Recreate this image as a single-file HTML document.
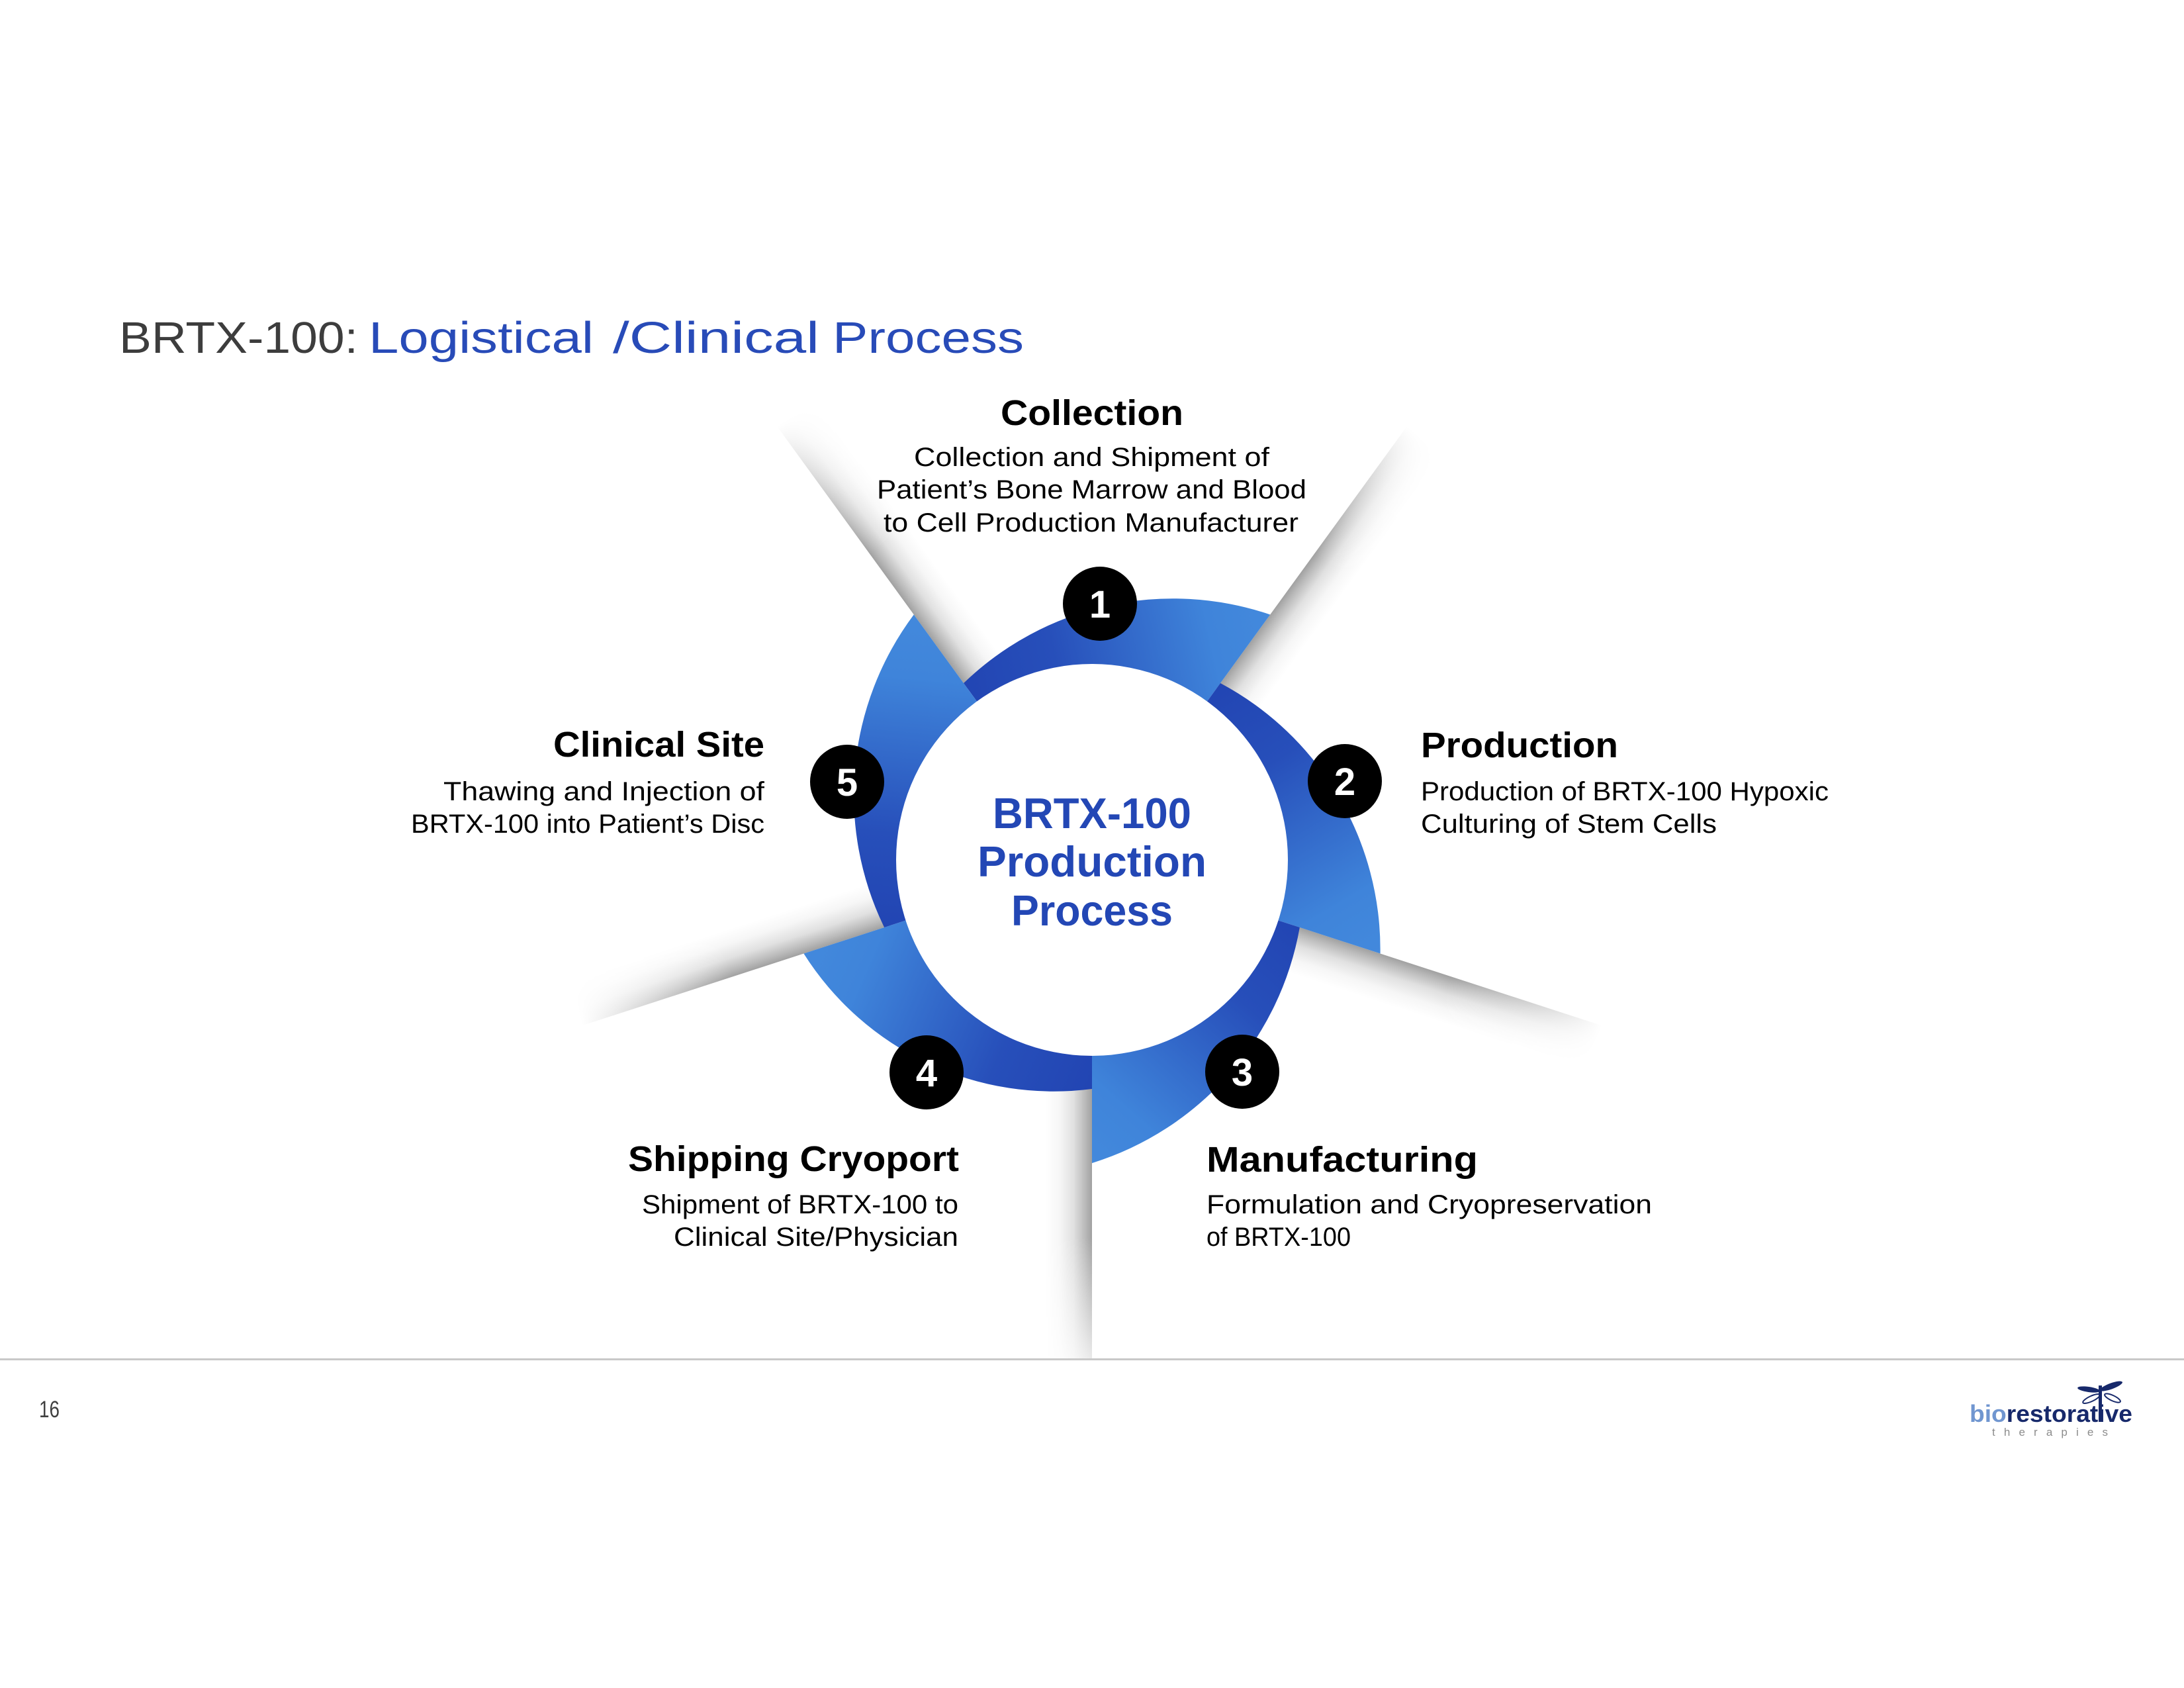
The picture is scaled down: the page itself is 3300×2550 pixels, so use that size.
<!DOCTYPE html>
<html>
<head>
<meta charset="utf-8">
<style>
html,body{margin:0;padding:0;background:#ffffff;}
svg{display:block;}
</style>
</head>
<body>
<svg width="3300" height="2550" viewBox="0 0 3300 2550" xmlns="http://www.w3.org/2000/svg" font-family="'Liberation Sans', Arial, sans-serif">
<defs>
  <linearGradient id="segG" gradientUnits="userSpaceOnUse" x1="-194" y1="-267" x2="269" y2="-371">
    <stop offset="0" stop-color="#2245b3"/>
    <stop offset="0.3" stop-color="#274fba"/>
    <stop offset="0.8" stop-color="#3f84da"/>
    <stop offset="1" stop-color="#4389dc"/>
  </linearGradient>
  <linearGradient id="shX" gradientUnits="userSpaceOnUse" x1="0" y1="0" x2="70" y2="0">
    <stop offset="0" stop-color="#000" stop-opacity="0.37"/>
    <stop offset="0.15" stop-color="#000" stop-opacity="0.27"/>
    <stop offset="0.4" stop-color="#000" stop-opacity="0.12"/>
    <stop offset="0.7" stop-color="#000" stop-opacity="0.035"/>
    <stop offset="1" stop-color="#000" stop-opacity="0"/>
  </linearGradient>
  <linearGradient id="shY" gradientUnits="userSpaceOnUse" x1="0" y1="-810" x2="0" y2="-570">
    <stop offset="0" stop-color="#000"/>
    <stop offset="1" stop-color="#fff"/>
  </linearGradient>
  <mask id="shM" maskUnits="userSpaceOnUse" x="-100" y="-900" width="300" height="700">
    <rect x="-100" y="-900" width="300" height="700" fill="url(#shY)"/>
  </mask>
  <clipPath id="pc"><rect x="0" y="0" width="3300" height="2052"/></clipPath>
</defs>

<rect x="0" y="0" width="3300" height="2550" fill="#ffffff"/>

<!-- Title -->
<text x="180" y="533" font-size="67" fill="#3d3d3d" textLength="361" lengthAdjust="spacingAndGlyphs">BRTX-100:</text>
<text x="557" y="533" font-size="67" fill="#284bb8" textLength="340" lengthAdjust="spacingAndGlyphs">Logistical</text>
<text x="926" y="533" font-size="67" fill="#284bb8" textLength="312" lengthAdjust="spacingAndGlyphs">/Clinical</text>
<text x="1258" y="533" font-size="67" fill="#284bb8" textLength="289" lengthAdjust="spacingAndGlyphs">Process</text>

<!-- Blade shadows -->
<g clip-path="url(#pc)">
  <g transform="translate(1650,1299) rotate(-36)"><rect x="0" y="-810" width="75" height="490" fill="url(#shX)" mask="url(#shM)"/></g>
  <g transform="translate(1650,1299) rotate(36)"><rect x="0" y="-810" width="75" height="490" fill="url(#shX)" mask="url(#shM)"/></g>
  <g transform="translate(1650,1299) rotate(108)"><rect x="0" y="-810" width="75" height="490" fill="url(#shX)" mask="url(#shM)"/></g>
  <g transform="translate(1650,1299) rotate(180)"><rect x="0" y="-810" width="75" height="490" fill="url(#shX)" mask="url(#shM)"/></g>
  <g transform="translate(1650,1299) rotate(252)"><rect x="0" y="-810" width="75" height="490" fill="url(#shX)" mask="url(#shM)"/></g>
</g>

<!-- Ring segments -->
<g transform="translate(1650,1299)">
  <path transform="rotate(0)" d="M-193.97,-266.98 A455.79,455.79 0 0 1 269.21,-370.53 L164.58,-226.52 A280,280 0 0 0 -164.58,-226.52 Z" fill="url(#segG)"/>
  <path transform="rotate(72)" d="M-193.97,-266.98 A455.79,455.79 0 0 1 269.21,-370.53 L164.58,-226.52 A280,280 0 0 0 -164.58,-226.52 Z" fill="url(#segG)"/>
  <path transform="rotate(144)" d="M-193.97,-266.98 A455.79,455.79 0 0 1 269.21,-370.53 L164.58,-226.52 A280,280 0 0 0 -164.58,-226.52 Z" fill="url(#segG)"/>
  <path transform="rotate(216)" d="M-203.37,-279.92 A447.01,447.01 0 0 1 269.21,-370.53 L164.58,-226.52 A280,280 0 0 0 -164.58,-226.52 Z" fill="url(#segG)"/>
  <path transform="rotate(288)" d="M-193.97,-266.98 A455.79,455.79 0 0 1 269.21,-370.53 L164.58,-226.52 A280,280 0 0 0 -164.58,-226.52 Z" fill="url(#segG)"/>
</g>

<!-- Inner circle -->
<circle cx="1650" cy="1299" r="296" fill="#ffffff"/>

<!-- Center text -->
<g font-weight="bold" font-size="65" fill="#2347b5">
  <text x="1500" y="1251" textLength="300" lengthAdjust="spacingAndGlyphs">BRTX-100</text>
  <text x="1477" y="1324" textLength="346" lengthAdjust="spacingAndGlyphs">Production</text>
  <text x="1528" y="1398" textLength="244" lengthAdjust="spacingAndGlyphs">Process</text>
</g>

<!-- Badges -->
<g>
  <circle cx="1662" cy="912" r="56" fill="#000"/>
  <circle cx="2032" cy="1180" r="56" fill="#000"/>
  <circle cx="1877" cy="1619" r="56" fill="#000"/>
  <circle cx="1400" cy="1620" r="56" fill="#000"/>
  <circle cx="1280" cy="1181" r="56" fill="#000"/>
</g>
<g font-weight="bold" font-size="58" fill="#ffffff" text-anchor="middle">
  <text x="1662" y="933">1</text>
  <text x="2032" y="1201">2</text>
  <text x="1877" y="1640">3</text>
  <text x="1400" y="1641">4</text>
  <text x="1280" y="1202">5</text>
</g>

<!-- Collection -->
<text x="1512" y="642" font-size="54" font-weight="bold" fill="#000" textLength="276" lengthAdjust="spacingAndGlyphs">Collection</text>
<g font-size="40" fill="#000">
  <text x="1381" y="704" textLength="537" lengthAdjust="spacingAndGlyphs">Collection and Shipment of</text>
  <text x="1325" y="753" textLength="649" lengthAdjust="spacingAndGlyphs">Patient’s Bone Marrow and Blood</text>
  <text x="1335" y="803" textLength="627" lengthAdjust="spacingAndGlyphs">to Cell Production Manufacturer</text>
</g>

<!-- Clinical Site -->
<text x="836" y="1143" font-size="54" font-weight="bold" fill="#000" textLength="319" lengthAdjust="spacingAndGlyphs">Clinical Site</text>
<g font-size="40" fill="#000">
  <text x="670" y="1209" textLength="485" lengthAdjust="spacingAndGlyphs">Thawing and Injection of</text>
  <text x="621" y="1258" textLength="534" lengthAdjust="spacingAndGlyphs">BRTX-100 into Patient’s Disc</text>
</g>

<!-- Production -->
<text x="2147" y="1144" font-size="54" font-weight="bold" fill="#000" textLength="298" lengthAdjust="spacingAndGlyphs">Production</text>
<g font-size="40" fill="#000">
  <text x="2147" y="1209" textLength="616" lengthAdjust="spacingAndGlyphs">Production of BRTX-100 Hypoxic</text>
  <text x="2147" y="1258" textLength="447" lengthAdjust="spacingAndGlyphs">Culturing of Stem Cells</text>
</g>

<!-- Shipping Cryoport -->
<text x="949" y="1769" font-size="54" font-weight="bold" fill="#000" textLength="500" lengthAdjust="spacingAndGlyphs">Shipping Cryoport</text>
<g font-size="40" fill="#000">
  <text x="970" y="1833" textLength="478" lengthAdjust="spacingAndGlyphs">Shipment of BRTX-100 to</text>
  <text x="1018" y="1882" textLength="430" lengthAdjust="spacingAndGlyphs">Clinical Site/Physician</text>
</g>

<!-- Manufacturing -->
<text x="1823" y="1770" font-size="54" font-weight="bold" fill="#000" textLength="410" lengthAdjust="spacingAndGlyphs">Manufacturing</text>
<g font-size="40" fill="#000">
  <text x="1823" y="1833" textLength="673" lengthAdjust="spacingAndGlyphs">Formulation and Cryopreservation</text>
  <text x="1823" y="1882" textLength="218" lengthAdjust="spacingAndGlyphs">of BRTX-100</text>
</g>

<!-- Footer -->
<rect x="0" y="2052" width="3300" height="3" fill="#c9c9c9"/>
<text x="59" y="2141" font-size="35" fill="#404040" textLength="31" lengthAdjust="spacingAndGlyphs">16</text>

<!-- Logo -->
<text x="2976" y="2148" font-size="36" font-weight="bold" textLength="246" lengthAdjust="spacingAndGlyphs"><tspan fill="#7096d0">bio</tspan><tspan fill="#17296b">restorative</tspan></text>
<text x="3010" y="2169" font-size="17" fill="#8c8c8c" textLength="175" lengthAdjust="spacing">therapies</text>
<g fill="#17296b">
  <ellipse cx="3156" cy="2099" rx="17" ry="4" transform="rotate(8 3156 2099)"/>
  <ellipse cx="3190" cy="2094" rx="18" ry="4.5" transform="rotate(-20 3190 2094)"/>
  <rect x="3171" y="2093" width="5" height="55"/>
</g>
<g fill="none" stroke="#17296b" stroke-width="2">
  <ellipse cx="3160" cy="2113" rx="14" ry="4" transform="rotate(-25 3160 2113)"/>
  <ellipse cx="3192" cy="2112" rx="13" ry="4" transform="rotate(25 3192 2112)"/>
</g>
</svg>
</body>
</html>
